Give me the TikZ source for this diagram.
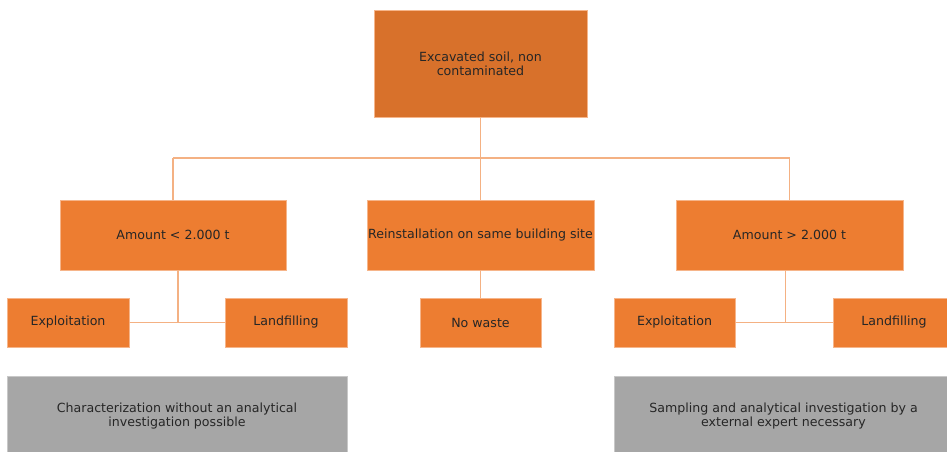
\documentclass[tikz,border=0pt]{standalone}
\usepackage{fontspec}
\setmainfont{DejaVu Sans}
\definecolor{topor}{HTML}{D8712B}
\definecolor{boxor}{HTML}{ED7D31}
\definecolor{edgeor}{HTML}{F6B58A}
\definecolor{lineor}{HTML}{F4B183}
\definecolor{grayfill}{HTML}{A6A6A6}
\definecolor{grayedge}{HTML}{C8C8C8}
\definecolor{txt}{HTML}{262626}
\begin{document}
\begin{tikzpicture}[x=1pt,y=-1pt,
  box/.style={draw=edgeor,line width=0.8pt,fill=boxor,inner sep=0pt,align=center,text=txt,font=\fontsize{12.6}{14.2}\selectfont},
  topbox/.style={box,fill=topor},
  graybox/.style={draw=grayedge,line width=0.8pt,fill=grayfill,inner sep=0pt,align=center,text=txt,font=\fontsize{12.6}{14.2}\selectfont},
  conn/.style={draw=lineor,line width=1.4pt}]
\clip (0,0) rectangle (947,451);
\fill[white] (0,0) rectangle (947,451);
% nodes
\node[topbox,minimum width=213pt,minimum height=107pt] (top) at (480.5,63.5) {Excavated soil, non\\contaminated};
\node[box,minimum width=226pt,minimum height=70pt] (lmid) at (173,235) {Amount < 2.000 t};
\node[box,minimum width=227pt,minimum height=70pt] (mmid) at (480.5,235) {Reinstallation on same building site};
\node[box,minimum width=227pt,minimum height=70pt] (rmid) at (789.5,235) {Amount > 2.000 t};
\node[box,minimum width=122pt,minimum height=49pt] (lexp) at (68,322.5) {Exploitation};
\node[box,minimum width=122pt,minimum height=49pt] (lland) at (286,322.5) {Landfilling};
\node[box,minimum width=121pt,minimum height=49pt] (nowaste) at (480.5,322.5) {No waste};
\node[box,minimum width=121pt,minimum height=49pt] (rexp) at (674.5,322.5) {Exploitation};
\node[box,minimum width=122pt,minimum height=49pt] (rland) at (894,322.5) {Landfilling};
\node[graybox,minimum width=340pt,minimum height=80pt] (lgray) at (177,416) {Characterization without an analytical\\investigation possible};
\node[graybox,minimum width=339pt,minimum height=80pt] (rgray) at (783.5,416) {Sampling and analytical investigation by a\\external expert necessary};
% connectors
\coordinate (hub) at (480.5,158);
\coordinate (hl) at (173,158);
\coordinate (hr) at (789.5,158);
\draw[conn] (top.south) -- (hub);
\draw[conn] (hl) -- (hr);
\draw[conn] (hl) -- (lmid.north);
\draw[conn] (hub) -- (mmid.north);
\draw[conn] (hr) -- (rmid.north);
\coordinate (lj) at (178,322.5);
\coordinate (rj) at (785.5,321.5);
\draw[conn] (lmid.south -| lj) -- (lj);
\draw[conn] (lexp.east) -- (lland.west);
\draw[conn] (mmid.south) -- (nowaste.north);
\draw[conn] (rmid.south -| rj) -- (rj);
\draw[conn] (rexp.east) -- (rland.west);
\end{tikzpicture}
\end{document}
